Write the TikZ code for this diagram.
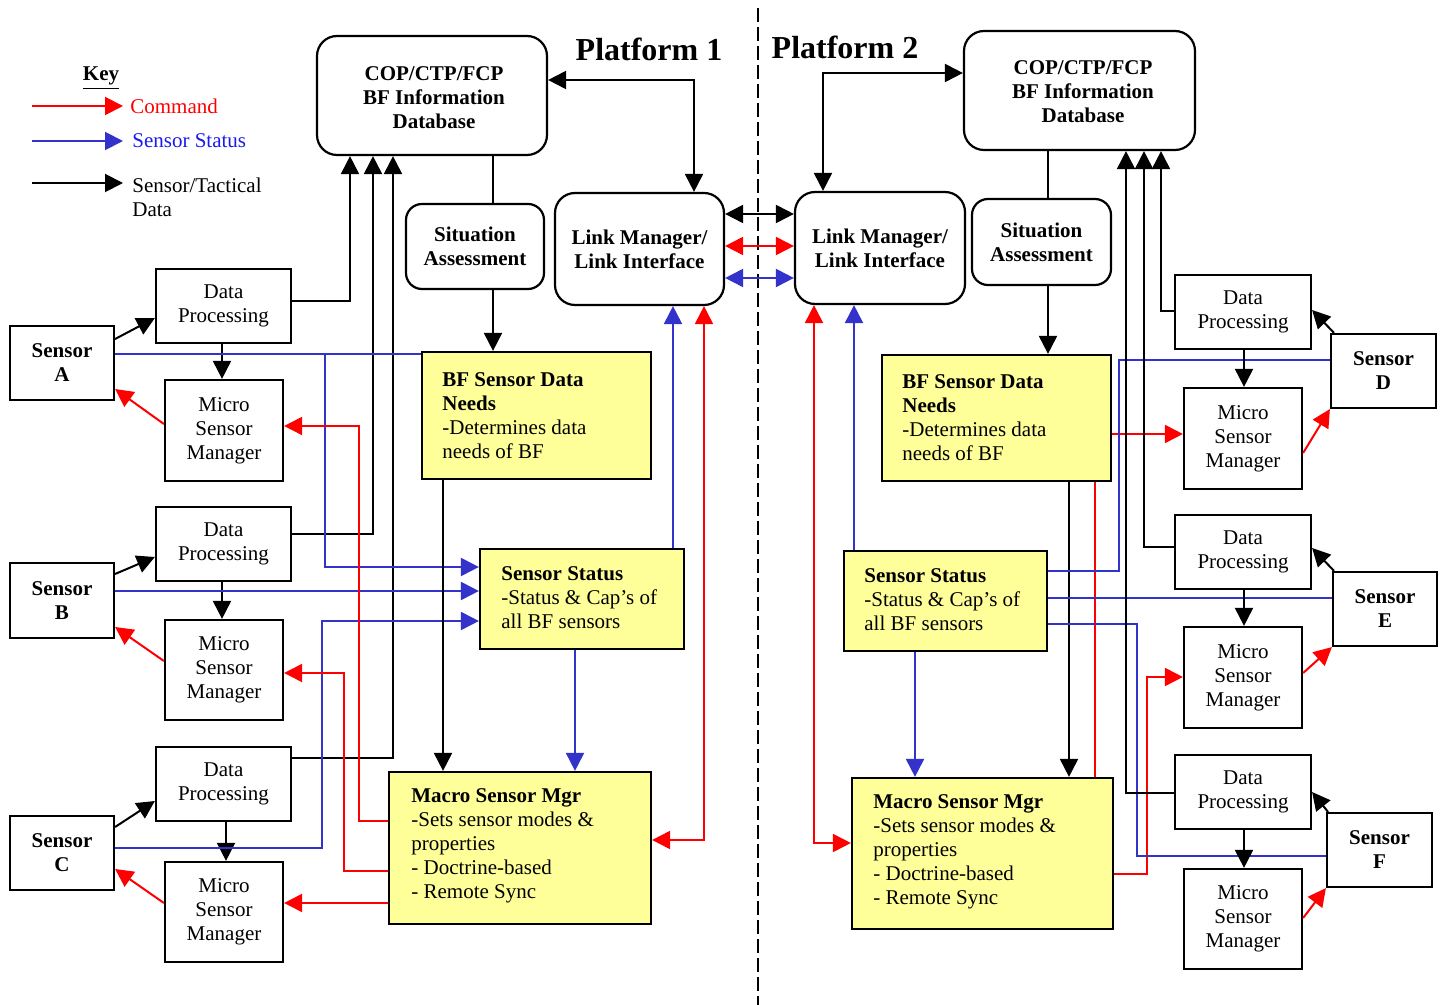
\documentclass[tikz,border=0pt]{standalone}
\usepackage{fontspec}
\setmainfont{Liberation Serif}
\usetikzlibrary{arrows.meta,calc}
\definecolor{cred}{HTML}{FF0000}
\definecolor{cblue}{HTML}{3333CC}
\definecolor{ctxtblue}{HTML}{1A1AF0}
\definecolor{cyel}{HTML}{FFFF99}
\begin{document}
\begin{tikzpicture}[x=0.5pt,y=-0.5pt,
  >={Triangle[length=9pt,width=9pt]},
  font=\fontsize{10.5}{12}\selectfont,
  plainbox/.style={draw, line width=1.1pt, inner sep=0pt, align=center},
  rbox/.style={plainbox, rounded corners=10pt, font=\fontsize{10.5}{12}\selectfont\bfseries},
  sbox/.style={plainbox, font=\fontsize{10.5}{12}\selectfont\bfseries},
  ybox/.style={plainbox, fill=cyel},
  ytext/.style={anchor=west, align=left, inner sep=0pt},
  blk/.style={line width=1pt, black},
  cmd/.style={line width=1pt, cred},
  sts/.style={line width=1pt, cblue}]
\useasboundingbox (0,0) rectangle (1442,1005);

% key
\node[anchor=base, inner sep=0pt, font=\fontsize{10.5}{12}\selectfont\bfseries] (key) at (101,81) {\underline{Key}};
\coordinate (k1s) at (32,106); \coordinate (k1e) at (123,106);
\coordinate (k2s) at (32,141); \coordinate (k2e) at (123,141);
\coordinate (k3s) at (32,183); \coordinate (k3e) at (123,183);
\draw[cmd,->] (k1s) -- (k1e);
\draw[sts,->] (k2s) -- (k2e);
\draw[blk,->] (k3s) -- (k3e);
\node[anchor=west, inner sep=0pt, text=cred] (kcmd) at (130,106) {Command};
\node[anchor=west, inner sep=0pt, text=ctxtblue] (ksts) at (132,141) {Sensor Status};
\node[anchor=west, inner sep=0pt, align=left] (kdat) at (132,197) {Sensor/Tactical\\Data};

% platform labels and divider
\node[font=\fontsize{16}{19}\selectfont\bfseries] (p1) at (649,49) {Platform 1};
\node[font=\fontsize{16}{19}\selectfont\bfseries] (p2) at (845,47) {Platform 2};
\coordinate (d1) at (758,8); \coordinate (d2) at (758,1005);
\draw[line width=1pt, dash pattern=on 7pt off 2.5pt] (d1) -- (d2);

% rounded boxes
\node[rbox, minimum width=115pt, minimum height=59.5pt] (cop1) at (432,95.5) {};
\node[align=center, inner sep=0pt, font=\fontsize{10.5}{12}\selectfont\bfseries] (cop1t) at (434,98) {COP/CTP/FCP\\BF Information\\Database};
\node[rbox, minimum width=115.5pt, minimum height=59.5pt] (cop2) at (1079.5,90.5) {};
\node[align=center, inner sep=0pt, font=\fontsize{10.5}{12}\selectfont\bfseries] (cop2t) at (1083,92) {COP/CTP/FCP\\BF Information\\Database};
\node[rbox, rounded corners=8pt, minimum width=69pt, minimum height=42.5pt] (sa1) at (475,246.5) {Situation\\Assessment};
\node[rbox, rounded corners=8pt, minimum width=69.5pt, minimum height=43pt] (sa2) at (1041.5,242) {Situation\\Assessment};
\node[rbox, minimum width=84.5pt, minimum height=56pt] (lm1) at (639.5,249) {Link Manager/\\Link Interface};
\node[rbox, minimum width=85pt, minimum height=56pt] (lm2) at (880,248) {Link Manager/\\Link Interface};

% yellow boxes
\node[ybox, minimum width=114.5pt, minimum height=63.5pt] (bfn1) at (536.5,415.5) {};
\node[ytext] (bfn1t) at (442,415.5) {\textbf{BF Sensor Data}\\\textbf{Needs}\\-Determines data\\needs of BF};
\node[ybox, minimum width=114.5pt, minimum height=63pt] (bfn2) at (996.5,418) {};
\node[ytext] (bfn2t) at (902,418) {\textbf{BF Sensor Data}\\\textbf{Needs}\\-Determines data\\needs of BF};
\node[ybox, minimum width=102pt, minimum height=50pt] (ss1) at (582,599) {};
\node[ytext] (ss1t) at (501,598) {\textbf{Sensor Status}\\-Status \& Cap’s of\\all BF sensors};
\node[ybox, minimum width=101.5pt, minimum height=50pt] (ss2) at (945.5,601) {};
\node[ytext] (ss2t) at (864,600) {\textbf{Sensor Status}\\-Status \& Cap’s of\\all BF sensors};
\node[ybox, minimum width=131pt, minimum height=76pt] (mac1) at (520,848) {};
\node[ytext] (mac1t) at (411,846) {\textbf{Macro Sensor Mgr}\\-Sets sensor modes \&\\properties\\- Doctrine-based\\- Remote Sync};
\node[ybox, minimum width=130.5pt, minimum height=75.5pt] (mac2) at (982.5,853.5) {};
\node[ytext] (mac2t) at (873,852) {\textbf{Macro Sensor Mgr}\\-Sets sensor modes \&\\properties\\- Doctrine-based\\- Remote Sync};

% left column
\node[sbox, minimum width=52pt, minimum height=37pt] (senA) at (62,363) {Sensor\\A};
\node[sbox, minimum width=52pt, minimum height=37.5pt] (senB) at (62,600.5) {Sensor\\B};
\node[sbox, minimum width=52pt, minimum height=37pt] (senC) at (62,853) {Sensor\\C};
\node[plainbox, minimum width=67.5pt, minimum height=37pt] (dpA) at (223.5,306) {Data\\Processing};
\node[plainbox, minimum width=67.5pt, minimum height=37pt] (dpB) at (223.5,544) {Data\\Processing};
\node[plainbox, minimum width=67.5pt, minimum height=37pt] (dpC) at (223.5,784) {Data\\Processing};
\node[plainbox, minimum width=59pt, minimum height=50.5pt] (msmA) at (224,430.5) {Micro\\Sensor\\Manager};
\node[plainbox, minimum width=59pt, minimum height=50pt] (msmB) at (224,670) {Micro\\Sensor\\Manager};
\node[plainbox, minimum width=59pt, minimum height=50pt] (msmC) at (224,912) {Micro\\Sensor\\Manager};

% right column
\node[plainbox, minimum width=68pt, minimum height=37pt] (dpD) at (1243,312) {Data\\Processing};
\node[plainbox, minimum width=68pt, minimum height=37pt] (dpE) at (1243,552) {Data\\Processing};
\node[plainbox, minimum width=68pt, minimum height=37pt] (dpF) at (1243,792) {Data\\Processing};
\node[plainbox, minimum width=59pt, minimum height=50.5pt] (msmD) at (1243,438.5) {Micro\\Sensor\\Manager};
\node[plainbox, minimum width=59pt, minimum height=50.5pt] (msmE) at (1243,677.5) {Micro\\Sensor\\Manager};
\node[plainbox, minimum width=59pt, minimum height=50pt] (msmF) at (1243,919) {Micro\\Sensor\\Manager};
\node[sbox, minimum width=52.5pt, minimum height=37pt] (senD) at (1383.5,371) {Sensor\\D};
\node[sbox, minimum width=52pt, minimum height=37pt] (senE) at (1385,609) {Sensor\\E};
\node[sbox, minimum width=52.5pt, minimum height=37pt] (senF) at (1379.5,850) {Sensor\\F};

% ---- left connectors
\draw[blk,->] (senA.east |- 0,339) -- (dpA.west |- 0,318);
\draw[blk,->] (senB.east |- 0,574) -- (dpB.west |- 0,557);
\draw[blk,->] (senC.east |- 0,827) -- (dpC.west |- 0,801);
\draw[blk,->] (222,0 |- dpA.south) -- (222,0 |- msmA.north);
\draw[blk,->] (222,0 |- dpB.south) -- (222,0 |- msmB.north);
\draw[blk,->] (226,0 |- dpC.south) -- (226,0 |- msmC.north);
\draw[cmd,->] (msmA.west |- 0,424) -- (senA.east |- 0,389);
\draw[cmd,->] (msmB.west |- 0,661) -- (senB.east |- 0,627);
\draw[cmd,->] (msmC.west |- 0,903) -- (senC.east |- 0,869);
\draw[blk,->] (dpA.east |- 0,301) -| (350,0 |- cop1.south);
\draw[blk,->] (dpB.east |- 0,534) -| (373,0 |- cop1.south);
\draw[blk,->] (dpC.east |- 0,758) -| (393,0 |- cop1.south);
\draw[sts] (senA.east |- 0,354) -- (bfn1.west |- 0,354);
\coordinate (jA) at (325,354);
\draw[sts,->] (jA) |- (ss1.west |- 0,567);
\draw[sts,->] (senB.east |- 0,591) -- (ss1.west |- 0,591);
\draw[sts,->] (senC.east |- 0,848) -| (322,621) -- (ss1.west |- 0,621);
\draw[cmd,->] (mac1.west |- 0,821) -| (359,426) -- (msmA.east |- 0,426);
\draw[cmd,->] (mac1.west |- 0,871) -| (344,673) -- (msmB.east |- 0,673);
\draw[cmd,->] (mac1.west |- 0,903) -- (msmC.east |- 0,903);

% ---- centre connectors
\draw[blk] (493,0 |- cop1.south) -- (493,0 |- sa1.north);
\draw[blk,->] (493,0 |- sa1.south) -- (493,0 |- bfn1.north);
\draw[blk,->] (443,0 |- bfn1.south) -- (443,0 |- mac1.north);
\draw[sts,->] (575,0 |- ss1.south) -- (575,0 |- mac1.north);
\draw[sts,->] (673,0 |- ss1.north) -- (673,0 |- lm1.south);
\draw[cmd,<->] (704,0 |- lm1.south) |- (mac1.east |- 0,840);
\draw[blk,<->] (cop1.east |- 0,80) -| (694,0 |- lm1.north);
\draw[blk,<->] (lm1.east |- 0,214) -- (lm2.west |- 0,214);
\draw[cmd,<->] (lm1.east |- 0,246) -- (lm2.west |- 0,246);
\draw[sts,<->] (lm1.east |- 0,278) -- (lm2.west |- 0,278);

% ---- right connectors
\draw[blk,<->] (823,0 |- lm2.north) |- (cop2.west |- 0,73);
\draw[blk] (1048,0 |- cop2.south) -- (1048,0 |- sa2.north);
\draw[blk,->] (1048,0 |- sa2.south) -- (1048,0 |- bfn2.north);
\draw[sts,->] (854,0 |- ss2.north) -- (854,0 |- lm2.south);
\draw[cmd,<->] (814,0 |- lm2.south) |- (mac2.west |- 0,843);
\draw[sts,->] (915,0 |- ss2.south) -- (915,0 |- mac2.north);
\draw[blk,->] (1069,0 |- bfn2.south) -- (1069,0 |- mac2.north);
\draw[cmd] (1095,0 |- bfn2.south) -- (1095,0 |- mac2.north);
\draw[cmd,->] (bfn2.east |- 0,434) -- (msmD.west |- 0,434);
\draw[cmd,->] (mac2.east |- 0,874) -| (1147,677) -- (msmE.west |- 0,677);
\draw[sts] (ss2.east |- 0,571) -| (1119,360) -- (senD.west |- 0,360);
\draw[sts] (ss2.east |- 0,598) -- (senE.west |- 0,598);
\draw[sts] (ss2.east |- 0,624) -| (1137,856) -- (senF.west |- 0,856);
\draw[blk,->] (dpD.west |- 0,311) -| (1161,0 |- cop2.south);
\draw[blk,->] (dpE.west |- 0,547) -| (1144,0 |- cop2.south);
\draw[blk,->] (dpF.west |- 0,793) -| (1126,0 |- cop2.south);
\draw[blk,->] (1334,0 |- senD.north) -- (dpD.east |- 0,310);
\draw[blk,->] (1334,0 |- senE.north) -- (dpE.east |- 0,548);
\draw[blk,->] (1328,0 |- senF.north) -- (dpF.east |- 0,792);
\draw[blk,->] (1244,0 |- dpD.south) -- (1244,0 |- msmD.north);
\draw[blk,->] (1244,0 |- dpE.south) -- (1244,0 |- msmE.north);
\draw[blk,->] (1244,0 |- dpF.south) -- (1244,0 |- msmF.north);
\draw[cmd,->] (msmD.east |- 0,453) -- (senD.south west);
\draw[cmd,->] (msmE.east |- 0,673) -- (senE.south west);
\draw[cmd,->] (msmF.east |- 0,918) -- (senF.south west);
\end{tikzpicture}
\end{document}
